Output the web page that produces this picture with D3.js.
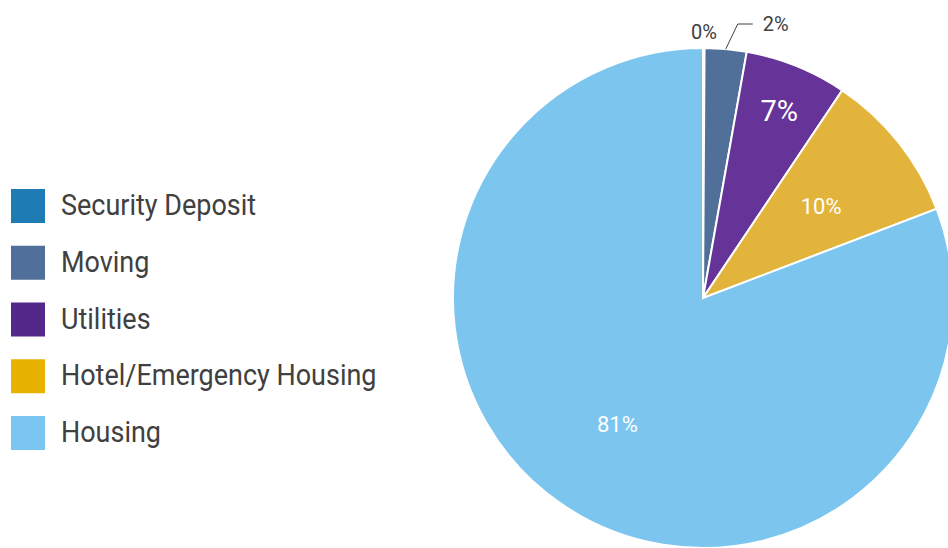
<!DOCTYPE html>
<html>
<head>
<meta charset="utf-8">
<script src="https://cdn.jsdelivr.net/npm/d3@7"></script>
<style>
  html, body { margin: 0; padding: 0; background: #fff; overflow: hidden; }
  svg { display: block; font-family: Roboto, "Noto Sans", sans-serif; }
</style>
</head>
<body>
<div id="chart"></div>
<script>
const categories = ["Security Deposit", "Moving", "Utilities", "Hotel/Emergency Housing", "Housing"];
const shares = [0.1, 2.7, 6.6, 9.8, 80.8];
const shareLabels = ["0%", "2%", "7%", "10%", "81%"];

const width = 948;
const height = 548;

const sliceColors = ["#1f78b4", "#50709a", "#663399", "#e3b43c", "#7bc5ee"];
const legendColors = ["#1f7bb4", "#516f9b", "#54288a", "#e8b200", "#7ac6f0"];

const data = categories.map((name, i) => ({ name, value: shares[i], label: shareLabels[i] }));

const svg = d3
  .select("#chart")
  .append("svg")
  .attr("width", width)
  .attr("height", height);

const cx = 703;
const cy = 298;
const radius = 250;

const color = d3.scaleOrdinal().domain(categories).range(sliceColors);
const legendColor = d3.scaleOrdinal().domain(categories).range(legendColors);

const pie = d3.pie().sort(null).value((d) => d.value);
const arcs = pie(data);

const arc = d3.arc().innerRadius(0).outerRadius(radius);

const chart = svg.append("g").attr("transform", `translate(${cx}, ${cy})`);

chart
  .selectAll("path")
  .data(arcs)
  .enter()
  .append("path")
  .attr("d", arc)
  .attr("fill", (d) => color(d.data.name))
  .attr("stroke", "#fff")
  .attr("stroke-width", 2);

// inside labels: small slices sit further out, like the original
const insideArc = d3.arc().innerRadius(151).outerRadius(151);
const outerInside = d3.arc().innerRadius(204).outerRadius(204);

arcs.forEach((d) => {
  const share = d.data.value;
  if (share < 2) {
    // tiny slice, label above the pie
    const [x, y] = d3.arc().innerRadius(radius + 16).outerRadius(radius + 16).centroid(d);
    chart.append("text")
      .attr("x", x)
      .attr("y", y)
      .attr("text-anchor", "middle")
      .attr("dy", "0.35em")
      .attr("fill", "#404040")
      .attr("font-size", 20)
      .text(d.data.label);
  } else if (share < 5) {
    // leader line to an outside label
    const [x0, y0] = d3.arc().innerRadius(radius).outerRadius(radius).centroid(d);
    const x1 = x0 + 12;
    const y1 = -radius - 24;
    const x2 = x1 + 15;
    chart.append("polyline")
      .attr("points", [[x0, y0], [x1, y1], [x2, y1]].map((p) => p.join(",")).join(" "))
      .attr("fill", "none")
      .attr("stroke", "#404040")
      .attr("stroke-width", 1);
    chart.append("text")
      .attr("x", x2 + 10)
      .attr("y", y1)
      .attr("dy", "0.35em")
      .attr("fill", "#404040")
      .attr("font-size", 20)
      .text(d.data.label);
  } else {
    const [x, y] = share < 8 ? outerInside.centroid(d) : insideArc.centroid(d);
    chart.append("text")
      .attr("x", x)
      .attr("y", y + 2)
      .attr("text-anchor", "middle")
      .attr("dy", "0.35em")
      .attr("fill", "#fff")
      .attr("font-size", share < 8 ? 29 : 22)
      .text(d.data.label);
  }
});

const legend = svg.append("g").attr("transform", "translate(11, 0)");
const legendY = d3.scalePoint().domain(categories).range([206, 433]);

const item = legend
  .selectAll("g")
  .data(categories)
  .enter()
  .append("g")
  .attr("transform", (d) => `translate(0, ${legendY(d)})`);

item.append("rect")
  .attr("y", -17)
  .attr("width", 34)
  .attr("height", 34)
  .attr("fill", (d) => legendColor(d));

// the original face is condensed, so squeeze Roboto a little
item.append("text")
  .attr("transform", "translate(50, -1) scale(0.93, 1)")
  .attr("dy", "0.35em")
  .attr("fill", "#404040")
  .attr("font-size", 29)
  .text((d) => d);
</script>
</body>
</html>
